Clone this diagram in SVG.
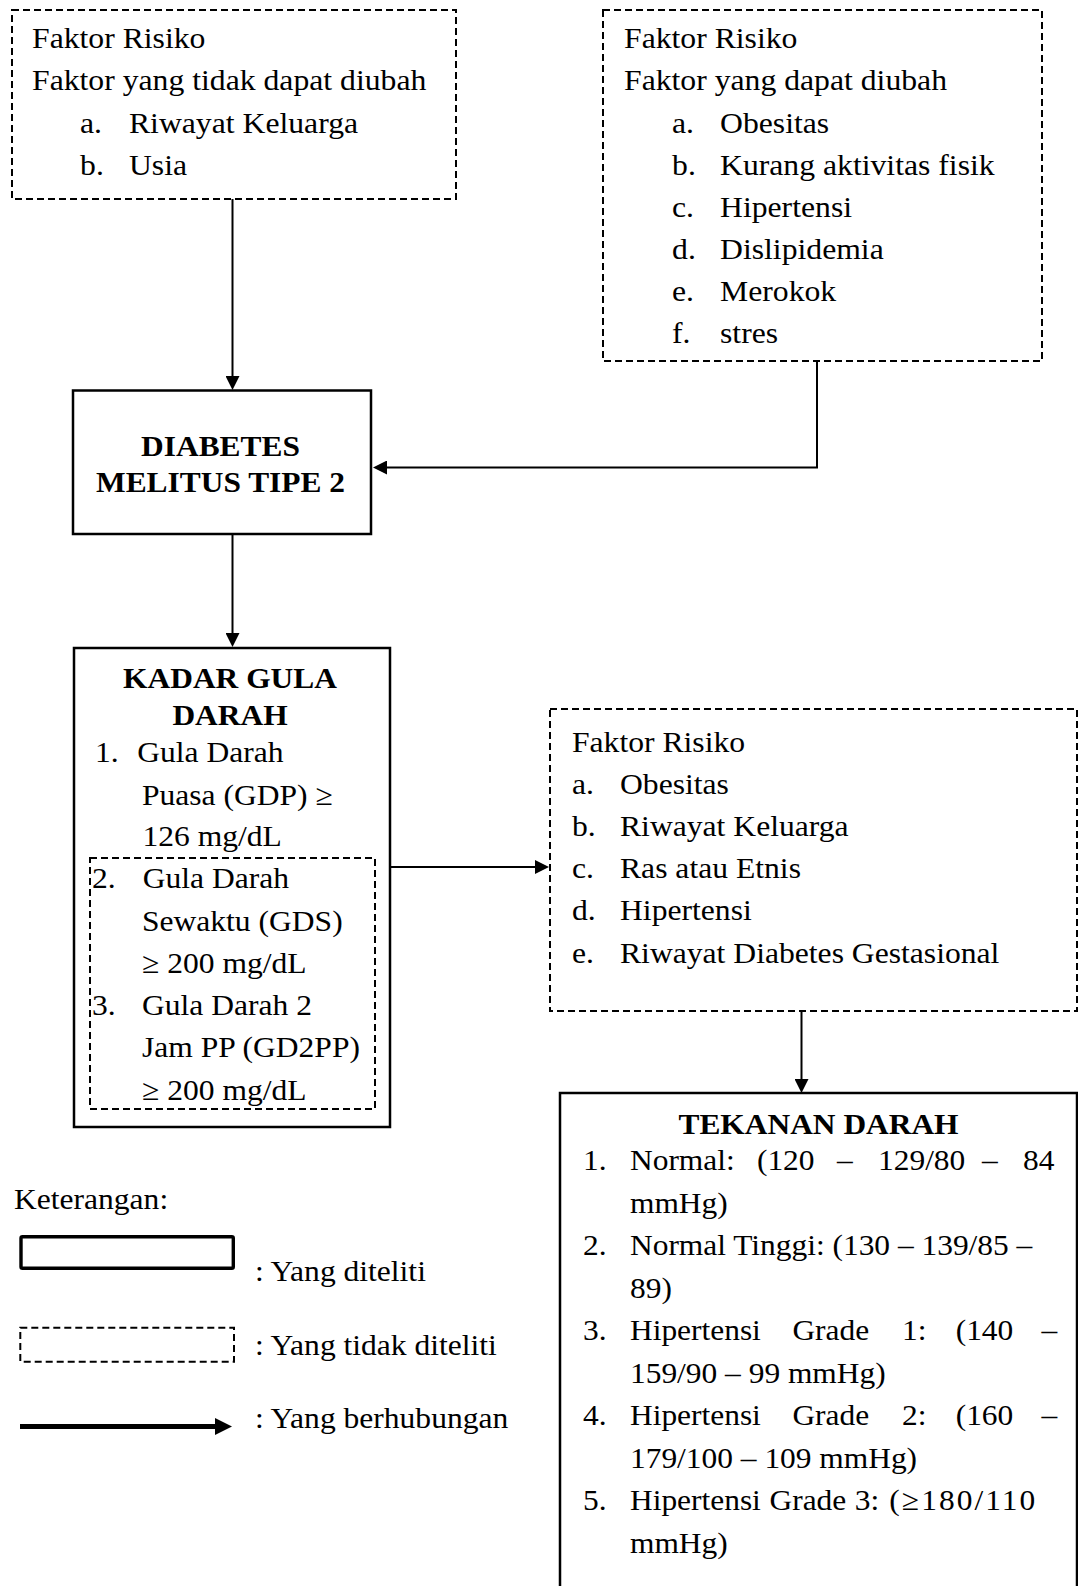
<svg xmlns="http://www.w3.org/2000/svg" width="1078" height="1586" viewBox="0 0 1078 1586">
<style>
.t{font-family:"Liberation Serif","Times New Roman",serif;font-size:29.5px;fill:#000}
.b{font-weight:bold}
.m{text-anchor:middle}
.solid{fill:#fff;stroke:#000;stroke-width:2.5}
.dash{fill:none;stroke:#000;stroke-width:2;stroke-dasharray:7 4}
.conn{fill:none;stroke:#000;stroke-width:2}
</style>
<defs>
<marker id="ah" markerUnits="userSpaceOnUse" markerWidth="14" markerHeight="14" refX="10" refY="7" orient="auto">
<path d="M0,0 L14,7 L0,14 z" fill="#000"/>
</marker>
</defs>
<rect width="1078" height="1586" fill="#fff"/>

<g id="connectors">
<path class="conn" d="M232.5,199 V386" marker-end="url(#ah)"/>
<path class="conn" d="M817,361 V467.5 H377" marker-end="url(#ah)"/>
<path class="conn" d="M232.5,534 V643" marker-end="url(#ah)"/>
<path class="conn" d="M391,867 H545" marker-end="url(#ah)"/>
<path class="conn" d="M801.5,1011 V1089" marker-end="url(#ah)"/>
</g>

<g id="faktor-tidak-dapat-diubah">
<rect class="dash" x="12" y="10" width="444" height="189"/>
<g class="t" transform="translate(32 0) scale(1.075 1)">
<text x="0" y="48">Faktor Risiko</text>
<text x="0" y="90.5">Faktor yang tidak dapat diubah</text>
<text x="44.7" y="133">a.</text><text x="90.2" y="133">Riwayat Keluarga</text>
<text x="44.7" y="175">b.</text><text x="90.2" y="175">Usia</text>
</g>
</g>

<g id="faktor-dapat-diubah">
<rect class="dash" x="603" y="10" width="439" height="351"/>
<g class="t" transform="translate(624 0) scale(1.075 1)">
<text x="0" y="48">Faktor Risiko</text>
<text x="0" y="90.5">Faktor yang dapat diubah</text>
<text x="44.7" y="133">a.</text><text x="89.3" y="133">Obesitas</text>
<text x="44.7" y="175">b.</text><text x="89.3" y="175">Kurang aktivitas fisik</text>
<text x="44.7" y="217">c.</text><text x="89.3" y="217">Hipertensi</text>
<text x="44.7" y="259">d.</text><text x="89.3" y="259">Dislipidemia</text>
<text x="44.7" y="301">e.</text><text x="89.3" y="301">Merokok</text>
<text x="44.7" y="343.5">f.</text><text x="89.3" y="343.5">stres</text>
</g>
</g>

<g id="diabetes">
<rect class="solid" x="73" y="390.5" width="298" height="143.5"/>
<g class="t b m" transform="translate(220.5 0) scale(1.065 1)">
<text x="0" y="456">DIABETES</text>
<text x="0" y="492.5">MELITUS TIPE 2</text>
</g>
</g>

<g id="kadar-gula-darah">
<rect class="solid" x="74" y="648" width="316" height="479"/>
<rect class="dash" x="90" y="858" width="285" height="251"/>
<g class="t b m" transform="translate(230 0) scale(1.065 1)">
<text x="0" y="688">KADAR GULA</text>
<text x="0" y="725">DARAH</text>
</g>
<g class="t" transform="translate(142 0) scale(1.07 1)">
<text x="-43.9" y="762">1.</text><text x="-4.4" y="762">Gula Darah</text>
<text x="0" y="805">Puasa (GDP) ≥</text>
<text x="0.5" y="846">126 mg/dL</text>
<text x="-46.8" y="888">2.</text><text x="0.7" y="888">Gula Darah</text>
<text x="0" y="931">Sewaktu (GDS)</text>
<text x="0" y="973">≥ 200 mg/dL</text>
<text x="-46.8" y="1015">3.</text><text x="0" y="1015">Gula Darah 2</text>
<text x="0" y="1057">Jam PP (GD2PP)</text>
<text x="0" y="1100">≥ 200 mg/dL</text>
</g>
</g>

<g id="faktor-risiko-lain">
<rect class="dash" x="550" y="709" width="527" height="302"/>
<g class="t" transform="translate(572 0) scale(1.072 1)">
<text x="0" y="752.5">Faktor Risiko</text>
<text x="0" y="794.5">a.</text><text x="44.8" y="794.5">Obesitas</text>
<text x="0" y="836.5">b.</text><text x="44.8" y="836.5">Riwayat Keluarga</text>
<text x="0" y="878.5">c.</text><text x="44.8" y="878.5">Ras atau Etnis</text>
<text x="0" y="920.5">d.</text><text x="44.8" y="920.5">Hipertensi</text>
<text x="0" y="963">e.</text><text x="44.8" y="963">Riwayat Diabetes Gestasional</text>
</g>
</g>

<g id="tekanan-darah">
<rect class="solid" x="560" y="1093" width="517" height="520"/>
<g class="t b m" transform="translate(818.5 0) scale(1.065 1)">
<text x="0" y="1134">TEKANAN DARAH</text>
</g>
<g class="t" transform="translate(630 0) scale(1.065 1)">
<text x="-44.1" y="1170">1.</text><text x="0" y="1170">Normal:</text><text x="119.2" y="1170">(120</text><text x="194.4" y="1170">–</text><text x="232.9" y="1170">129/80</text><text x="330.5" y="1170">–</text><text x="369" y="1170">84</text>
<text x="0" y="1213">mmHg)</text>
<text x="-44.1" y="1255">2.</text><text x="0" y="1255">Normal Tinggi: (130 – 139/85 –</text>
<text x="0" y="1298">89)</text>
<text x="-44.1" y="1340">3.</text><text x="0" y="1340">Hipertensi</text><text x="152.5" y="1340">Grade</text><text x="255.4" y="1340">1:</text><text x="305.8" y="1340">(140</text><text x="386.5" y="1340">–</text>
<text x="0" y="1383">159/90 – 99 mmHg)</text>
<text x="-44.1" y="1425">4.</text><text x="0" y="1425">Hipertensi</text><text x="152.5" y="1425">Grade</text><text x="255.4" y="1425">2:</text><text x="305.8" y="1425">(160</text><text x="386.5" y="1425">–</text>
<text x="0" y="1468">179/100 – 109 mmHg)</text>
<text x="-44.1" y="1510">5.</text><text x="0" y="1510">Hipertensi</text><text x="131" y="1510">Grade</text><text x="211" y="1510">3:</text><text x="243.5" y="1510" textLength="137" lengthAdjust="spacing">(≥180/110</text>
<text x="0" y="1553">mmHg)</text>
</g>
</g>

<g id="legend">
<g class="t" transform="translate(14 0) scale(1.07 1)">
<text x="0" y="1209">Keterangan:</text>
</g>
<rect x="21" y="1236.7" width="212.3" height="31.6" rx="1.5" fill="#fff" stroke="#000" stroke-width="3.4"/>
<rect class="dash" x="20.3" y="1327.7" width="213.7" height="34"/>
<path d="M20,1426.5 H218" stroke="#000" stroke-width="5" fill="none"/>
<path d="M215,1418 L232,1426.5 L215,1435 z" fill="#000"/>
<g class="t" transform="translate(255 0) scale(1.07 1)">
<text x="0" y="1281.5">: Yang diteliti</text>
<text x="0" y="1355">: Yang tidak diteliti</text>
<text x="0" y="1428">: Yang berhubungan</text>
</g>
</g>
</svg>
